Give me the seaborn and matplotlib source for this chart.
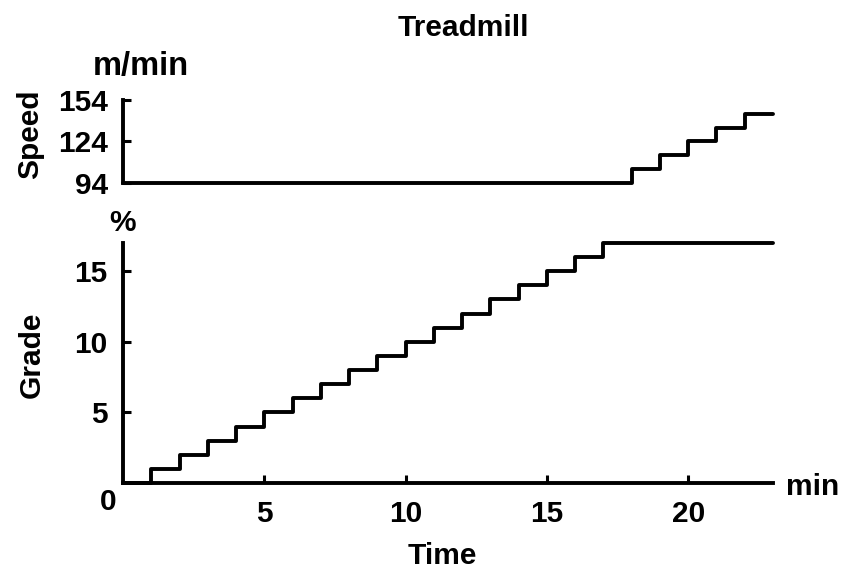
import matplotlib
matplotlib.use("Agg")
import matplotlib.pyplot as plt
import seaborn as sns
import pandas as pd

# ---- data ----
speed_time = [0, 18, 19, 20, 21, 22, 23]
speed_values = [94, 104, 114, 124, 134, 144, 144]
speed_ticks = [94, 124, 154]

grade_time = [0, 1, 2, 3, 4, 5, 6, 7, 8, 9, 10, 11, 12, 13, 14, 15, 16, 17, 23]
grade_values = [0, 1, 2, 3, 4, 5, 6, 7, 8, 9, 10, 11, 12, 13, 14, 15, 16, 17, 17]
grade_ticks = [5, 10, 15]
time_ticks = [5, 10, 15, 20]

sns.set_theme(style="white")
plt.rcParams['font.family'] = ['Liberation Sans', 'DejaVu Sans']

W, H = 856, 584
fig = plt.figure(figsize=(W / 100, H / 100), dpi=100)

def box(x0, y0, x1, y1):
    return [x0 / W, 1 - y1 / H, (x1 - x0) / W, (y1 - y0) / H]

ax1 = fig.add_axes(box(123, 100, 773, 183))
ax2 = fig.add_axes(box(123, 243, 773, 483))

lw = 2.8
fs = 21.5
fw = 'bold'

df_s = pd.DataFrame({"t": speed_time, "v": speed_values})
df_g = pd.DataFrame({"t": grade_time, "v": grade_values})

sns.lineplot(data=df_s, x="t", y="v", ax=ax1, drawstyle="steps-post",
             color="black", linewidth=lw, clip_on=False)
sns.lineplot(data=df_g, x="t", y="v", ax=ax2, drawstyle="steps-post",
             color="black", linewidth=lw, clip_on=False)

for ax in (ax1, ax2):
    ax.set_xlim(0, 23)
    ax.set_xlabel("")
    ax.set_ylabel("")
    ax.set_facecolor("white")
    for s in ("top", "right"):
        ax.spines[s].set_visible(False)
    ax.spines["left"].set_linewidth(lw)
    ax.spines["left"].set_color("black")

ax1.set_ylim(94, 154)
ax1.spines["bottom"].set_visible(False)
ax1.set_xticks([])
ax1.set_yticks(speed_ticks)
ax1.set_yticklabels([str(v) for v in speed_ticks])

ax2.set_ylim(0, 17)
ax2.spines["bottom"].set_linewidth(lw)
ax2.spines["bottom"].set_color("black")
ax2.set_yticks(grade_ticks)
ax2.set_yticklabels([str(v) for v in grade_ticks])
ax2.set_xticks(time_ticks)
ax2.set_xticklabels([str(v) for v in time_ticks])

for ax in (ax1, ax2):
    ax.tick_params(axis="both", direction="in", length=6, width=2.2,
                   color="black", labelcolor="black", labelsize=fs, pad=11,
                   left=True, bottom=True)
    for lab in ax.get_yticklabels() + ax.get_xticklabels():
        lab.set_fontweight(fw)
ax1.tick_params(axis="x", bottom=False)
ax2.tick_params(axis="x", pad=12)

def ftext(x, y, s, size=fs, **kw):
    fig.text(x / W, 1 - y / H, s, ha="center", va="center",
             fontsize=size, fontweight=fw, color="black", **kw)

ftext(463, 28, "Treadmill")
ftext(141, 66, "m/min", size=23.5)
ftext(30, 134, "Speed", rotation=90)
ftext(123, 223, "%")
ftext(32, 355, "Grade", rotation=90)
ftext(108, 502, "0")
ftext(813, 487, "min")
ftext(442, 556, "Time")

fig.savefig("out.png", dpi=100, facecolor="white")
